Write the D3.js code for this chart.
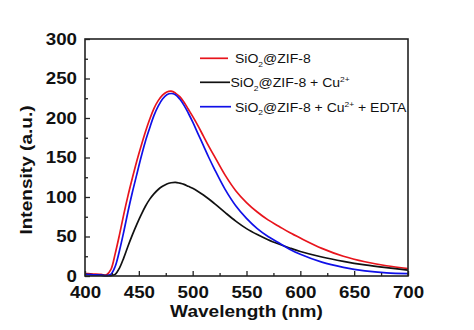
<!DOCTYPE html>
<html>
<head>
<meta charset="utf-8">
<script src="https://cdn.jsdelivr.net/npm/d3@7"></script>
<style>
  body { margin: 0; background: #fff; }
  svg text { font-family: "Liberation Sans", Arial, sans-serif; fill: #111; }
</style>
</head>
<body>
<div id="chart"></div>
<script>
// wavelength samples (nm)
const wavelengths = [400, 405, 410, 415, 420, 424, 428, 432, 436, 440, 444, 448, 452, 456, 460, 464, 468, 472, 476, 480,
  484, 488, 492, 496, 500, 505, 510, 515, 520, 530, 540, 550, 560, 570, 580, 590, 600, 620, 640, 660, 680, 700]

const zif8 = [3, 2.8, 2.5, 2, 1.5, 8, 28, 52, 78, 102, 124, 145, 164, 182, 198, 212, 222, 229, 233, 234,
  231.5, 227, 220, 211, 202, 190, 177, 164, 152, 128, 108, 93, 81, 71, 63, 55, 48, 35, 25, 18, 13, 9.5]
const zif8Cu = [2, 1.8, 1.5, 1, 0.5, 0.5, 2, 10, 23, 38, 52, 65, 77, 88, 97, 104, 109.5, 113.5, 116.5, 118,
  118.5, 117.5, 116, 113.5, 111, 107, 102.5, 97.5, 92, 80.5, 69.5, 60, 52.5, 46, 40.5, 35.5, 31, 24, 18.5, 14, 10.5, 7.5]
const zif8CuEdta = [2, 1.8, 1.5, 1, 0.5, 2, 12, 32, 56, 82, 106, 128, 150, 170, 187, 203, 215, 224, 229.5, 231,
  229.5, 224, 216, 206, 195, 180, 165, 150, 136, 110, 89, 73, 60, 50, 42, 34, 27.5, 17.5, 11, 6.5, 4, 3]

const xTicks = [400, 450, 500, 550, 600, 650, 700]
const yTicks = [0, 50, 100, 150, 200, 250, 300]

const series = [
  {values: zif8, color: "#e8141c"},
  {values: zif8Cu, color: "#111111"},
  {values: zif8CuEdta, color: "#1010e8"}
]

const width = 474, height = 330
const plotLeft = 85, plotRight = 408, plotTop = 39, plotBottom = 276
const stretch = 1.17

const svg = d3.select("#chart").append("svg")
  .attr("width", width)
  .attr("height", height)

const x = d3.scaleLinear().domain([400, 700]).range([plotLeft, plotRight])
const y = d3.scaleLinear().domain([0, 300]).range([plotBottom, plotTop])

// widen glyphs a bit, the original font runs wider than Arial
function widen(sel, k) {
  sel.each(function() {
    const len = this.getComputedTextLength()
    d3.select(this).attr("textLength", len * k).attr("lengthAdjust", "spacingAndGlyphs")
  })
}

// curves
const line = d3.line()
  .x((d, i) => x(wavelengths[i]))
  .y(d => y(d))
  .curve(d3.curveCatmullRom.alpha(0.5))

svg.append("g").selectAll("path")
  .data(series)
  .enter().append("path")
    .attr("d", d => line(d.values))
    .attr("fill", "none")
    .attr("stroke", d => d.color)
    .attr("stroke-width", 1.7)

// frame
svg.append("rect")
  .attr("x", plotLeft).attr("y", plotTop)
  .attr("width", plotRight - plotLeft).attr("height", plotBottom - plotTop)
  .attr("fill", "none")
  .attr("stroke", "#222")
  .attr("stroke-width", 1.6)

// minor ticks
svg.append("g")
  .attr("transform", `translate(0,${plotBottom})`)
  .call(d3.axisBottom(x).tickValues(d3.range(425, 700, 50)).tickSize(-3).tickFormat(""))
svg.append("g")
  .attr("transform", `translate(${plotLeft},0)`)
  .call(d3.axisLeft(y).tickValues(d3.range(25, 300, 50)).tickSize(-3).tickFormat(""))

// major ticks
svg.append("g")
  .attr("transform", `translate(0,${plotBottom})`)
  .call(d3.axisBottom(x).tickValues(xTicks).tickSize(-5).tickPadding(10.5))
svg.append("g")
  .attr("transform", `translate(${plotLeft},0)`)
  .call(d3.axisLeft(y).tickValues(yTicks).tickSize(-5).tickPadding(8))

svg.selectAll(".domain").remove()
svg.selectAll(".tick line").attr("stroke", "#222").attr("stroke-width", 1.3)
svg.selectAll(".tick text")
  .style("font-size", "16px")
  .style("font-weight", "bold")
  .attr("fill", "#111")
widen(svg.selectAll(".tick text"), stretch)

// axis titles
svg.append("text")
  .attr("x", (plotLeft + plotRight) / 2)
  .attr("y", 317)
  .attr("text-anchor", "middle")
  .style("font-size", "16.3px")
  .style("font-weight", "bold")
  .text("Wavelength (nm)")
  .call(widen, stretch)

svg.append("text")
  .attr("transform", "translate(32,170) rotate(-90)")
  .attr("text-anchor", "middle")
  .style("font-size", "16.3px")
  .style("font-weight", "bold")
  .text("Intensity (a.u.)")
  .call(widen, stretch)

// legend
const legendRows = [
  {color: series[0].color, y: 58.3, x1: 200, x2: 228, tx: 235, extra: ""},
  {color: series[1].color, y: 82.3, x1: 200, x2: 230, tx: 230.5, extra: "cu"},
  {color: series[2].color, y: 106.7, x1: 200, x2: 231, tx: 235, extra: "edta"}
]

const legend = svg.append("g")
legendRows.forEach(r => {
  legend.append("line")
    .attr("x1", r.x1).attr("x2", r.x2)
    .attr("y1", r.y).attr("y2", r.y)
    .attr("stroke", r.color)
    .attr("stroke-width", 1.7)

  const t = legend.append("text")
    .attr("x", r.tx)
    .attr("y", r.y + 5)
    .style("font-size", "12.5px")
  t.append("tspan").text("SiO")
  t.append("tspan").attr("dy", 3.5).style("font-size", "7.5px").text("2")
  t.append("tspan").attr("dy", -3.5).text("@ZIF-8")
  if (r.extra) {
    t.append("tspan").text(" + Cu")
    t.append("tspan").attr("dy", -5).style("font-size", "7.5px").text("2+")
    t.append("tspan").attr("dy", 5).text(r.extra === "edta" ? " + EDTA" : "")
  }
  widen(t, 1.12)
})
</script>
</body>
</html>
